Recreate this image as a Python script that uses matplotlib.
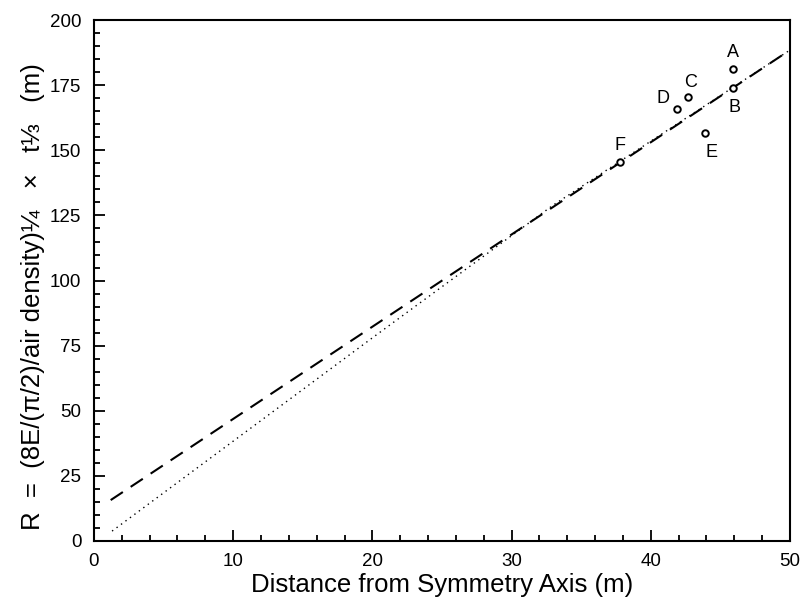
import matplotlib
matplotlib.use("Agg")
import matplotlib.pyplot as plt
from matplotlib.ticker import MultipleLocator

# measured points (distance from axis, scaled radius)
labels = ["A", "B", "C", "D", "E", "F"]
dist = [45.9, 45.9, 42.7, 41.9, 43.9, 37.8]
radius = [181.2, 173.9, 170.4, 165.8, 156.6, 145.5]
label_dx = [0.0, 0.1, 0.2, -1.0, 0.5, 0.0]
label_dy = [6.3, -7.3, 5.8, 4.2, -7.3, 6.5]

# fitted lines
dash_x = [1.2, 50.0]
dash_y = [15.7, 188.5]
dot_x = [1.3, 20.0, 33.0, 50.0]
dot_y = [3.8, 78.0, 129.0, 188.5]

plt.rcParams['font.family'] = ['Liberation Sans', 'DejaVu Sans']

fig = plt.figure(figsize=(8.06, 6.11), dpi=100)
ax = fig.add_axes([0.1166, 0.1146, 0.8634, 0.8524])

ax.plot(dash_x, dash_y, color='black', linestyle=(0, (7, 4.5)), linewidth=1.5)
ax.plot(dot_x, dot_y, color='black', linestyle=(0, (1, 3)), linewidth=1.0)
ax.scatter(dist, radius, s=22, facecolors='white', edgecolors='black', linewidths=1.4, zorder=3)
for lab, x, y, dx, dy in zip(labels, dist, radius, label_dx, label_dy):
    ax.text(x + dx, y + dy, lab, fontsize=13, ha='center', va='center')

ax.set_xlim(0, 50)
ax.set_ylim(0, 200)
ax.xaxis.set_major_locator(MultipleLocator(10))
ax.xaxis.set_minor_locator(MultipleLocator(2))
ax.yaxis.set_major_locator(MultipleLocator(25))
ax.yaxis.set_minor_locator(MultipleLocator(5))
ax.tick_params(which='both', direction='in', top=False, right=False, labelsize=13.5, width=1.3)
ax.tick_params(which='major', length=8, pad=9)
ax.tick_params(which='minor', length=4)
for s in ax.spines.values():
    s.set_linewidth(1.5)

ax.set_xlabel("Distance from Symmetry Axis (m)", fontsize=18.5, labelpad=2)
ax.set_ylabel("R  =  (8E/(\u03c0/2)/air density)\u00bc   \u00d7   t\u2153   (m)", fontsize=18.5)
ax.yaxis.set_label_coords(-0.07, 0.47)

fig.savefig("out.png", dpi=100)
